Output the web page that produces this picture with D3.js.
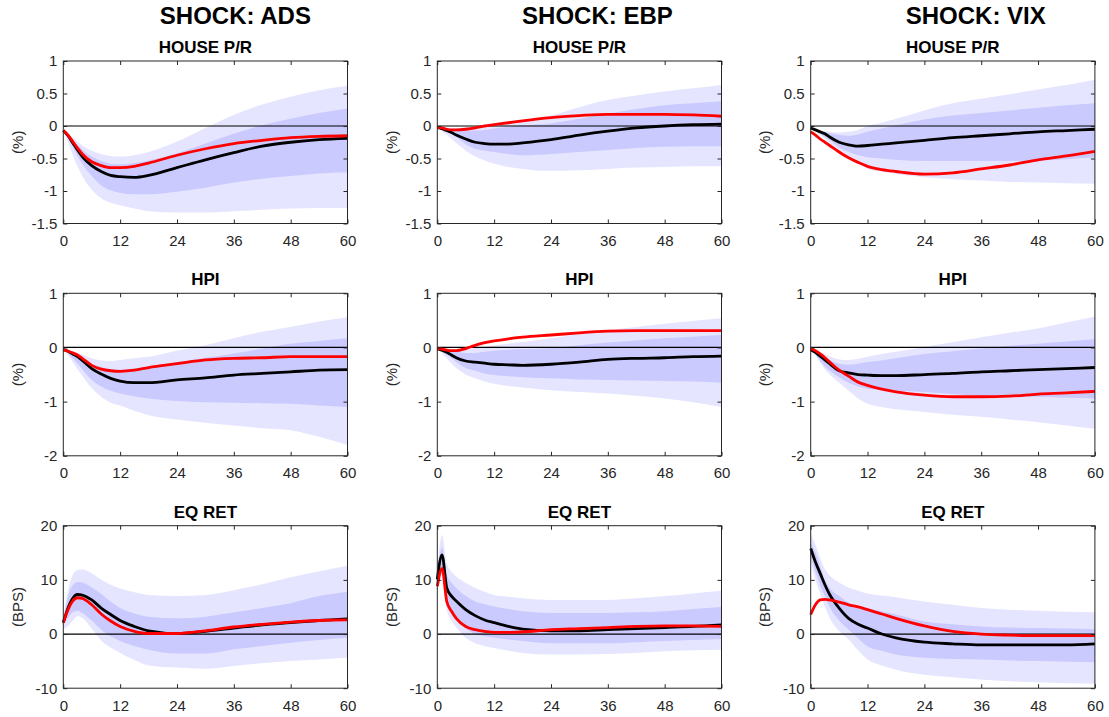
<!DOCTYPE html>
<html>
<head>
<meta charset="utf-8">
<script src="https://cdn.jsdelivr.net/npm/d3@7"></script>
<style>
  body { margin: 0; background: #fff; }
  svg { display: block; font-family: "Liberation Sans", Arial, Helvetica, sans-serif; }
</style>
</head>
<body>
<div id="chart"></div>
<script>
// horizons (months) at which the responses were read
const horizons = [0, 1, 2, 3, 4, 6, 8, 10, 12, 15, 18, 24, 30, 36, 42, 48, 54, 60];
const shocks = ["ADS", "EBP", "VIX"];
const variables = ["HOUSE P/R", "HPI", "EQ RET"];
const units = ["(%)", "(%)", "(BPS)"];
const yDomains = [[-1.5, 1], [-2, 1], [-10, 20]];
const yTicks = [[-1.5, -1, -0.5, 0, 0.5, 1], [-2, -1, 0, 1], [-10, 0, 10, 20]];
const xTicks = [0, 12, 24, 36, 48, 60];

// ADS shock, HOUSE P/R
const adsHouseBlack = [-0.07,-0.15,-0.26,-0.37,-0.47,-0.61,-0.70,-0.76,-0.78,-0.79,-0.76,-0.64,-0.52,-0.41,-0.31,-0.25,-0.21,-0.19];
const adsHouseRed = [-0.07,-0.14,-0.24,-0.34,-0.43,-0.55,-0.61,-0.64,-0.64,-0.62,-0.57,-0.45,-0.35,-0.27,-0.22,-0.18,-0.16,-0.15];
const adsHouseOuterHi = [-0.07,-0.12,-0.18,-0.24,-0.30,-0.38,-0.43,-0.46,-0.47,-0.45,-0.40,-0.24,-0.03,0.17,0.33,0.45,0.55,0.62];
const adsHouseInnerHi = [-0.07,-0.13,-0.21,-0.29,-0.36,-0.47,-0.54,-0.58,-0.59,-0.57,-0.53,-0.42,-0.27,-0.12,0.01,0.11,0.20,0.27];
const adsHouseInnerLo = [-0.07,-0.18,-0.32,-0.46,-0.58,-0.77,-0.91,-0.99,-1.03,-1.05,-1.05,-1.01,-0.95,-0.87,-0.81,-0.77,-0.73,-0.71];
const adsHouseOuterLo = [-0.07,-0.25,-0.45,-0.62,-0.77,-0.98,-1.11,-1.18,-1.22,-1.27,-1.31,-1.33,-1.33,-1.31,-1.29,-1.27,-1.26,-1.26];

// EBP shock, HOUSE P/R
const ebpHouseBlack = [-0.02,-0.04,-0.07,-0.10,-0.14,-0.20,-0.25,-0.27,-0.28,-0.28,-0.26,-0.21,-0.14,-0.08,-0.03,0.00,0.02,0.03];
const ebpHouseRed = [-0.02,-0.03,-0.05,-0.06,-0.06,-0.05,-0.03,0.00,0.02,0.05,0.08,0.13,0.16,0.18,0.18,0.18,0.17,0.15];
const ebpHouseOuterHi = [-0.02,-0.02,-0.03,-0.03,-0.03,-0.02,-0.01,0.00,0.00,0.03,0.07,0.16,0.29,0.40,0.47,0.53,0.58,0.63];
const ebpHouseInnerHi = [-0.02,-0.03,-0.04,-0.05,-0.06,-0.07,-0.07,-0.06,-0.04,-0.01,0.01,0.04,0.11,0.19,0.26,0.32,0.35,0.38];
const ebpHouseInnerLo = [-0.02,-0.05,-0.09,-0.12,-0.17,-0.28,-0.35,-0.38,-0.40,-0.43,-0.45,-0.43,-0.40,-0.37,-0.34,-0.32,-0.31,-0.31];
const ebpHouseOuterLo = [-0.02,-0.08,-0.14,-0.20,-0.26,-0.38,-0.47,-0.53,-0.58,-0.63,-0.66,-0.69,-0.68,-0.66,-0.64,-0.63,-0.62,-0.62];

// VIX shock, HOUSE P/R
const vixHouseBlack = [-0.03,-0.06,-0.09,-0.12,-0.17,-0.25,-0.29,-0.31,-0.30,-0.28,-0.26,-0.22,-0.18,-0.15,-0.12,-0.09,-0.07,-0.05];
const vixHouseRed = [-0.09,-0.14,-0.20,-0.25,-0.30,-0.40,-0.49,-0.56,-0.62,-0.67,-0.70,-0.74,-0.72,-0.66,-0.60,-0.52,-0.46,-0.39];
const vixHouseOuterHi = [-0.03,-0.05,-0.07,-0.08,-0.09,-0.10,-0.09,-0.06,0.00,0.05,0.11,0.24,0.35,0.42,0.49,0.56,0.63,0.71];
const vixHouseInnerHi = [-0.03,-0.05,-0.07,-0.09,-0.11,-0.14,-0.15,-0.13,-0.09,-0.04,0.01,0.10,0.16,0.20,0.24,0.28,0.32,0.35];
const vixHouseInnerLo = [-0.03,-0.07,-0.12,-0.17,-0.22,-0.33,-0.40,-0.45,-0.48,-0.50,-0.52,-0.54,-0.54,-0.54,-0.54,-0.53,-0.51,-0.48];
const vixHouseOuterLo = [-0.03,-0.08,-0.14,-0.20,-0.27,-0.40,-0.48,-0.57,-0.66,-0.70,-0.74,-0.79,-0.82,-0.84,-0.86,-0.87,-0.88,-0.89];

// ADS shock, HPI
const adsHpiBlack = [-0.04,-0.07,-0.12,-0.17,-0.24,-0.39,-0.49,-0.57,-0.62,-0.65,-0.65,-0.60,-0.56,-0.51,-0.48,-0.45,-0.42,-0.41];
const adsHpiRed = [-0.04,-0.07,-0.10,-0.14,-0.20,-0.33,-0.40,-0.43,-0.44,-0.42,-0.37,-0.30,-0.23,-0.20,-0.19,-0.17,-0.17,-0.17];
const adsHpiOuterHi = [-0.04,-0.05,-0.07,-0.10,-0.13,-0.20,-0.24,-0.25,-0.23,-0.20,-0.17,-0.06,0.04,0.17,0.29,0.38,0.48,0.56];
const adsHpiInnerHi = [-0.04,-0.06,-0.09,-0.13,-0.19,-0.30,-0.36,-0.40,-0.41,-0.39,-0.36,-0.27,-0.19,-0.11,-0.02,0.07,0.12,0.17];
const adsHpiInnerLo = [-0.04,-0.11,-0.20,-0.30,-0.40,-0.60,-0.72,-0.80,-0.85,-0.90,-0.94,-0.99,-1.01,-1.02,-1.03,-1.04,-1.07,-1.10];
const adsHpiOuterLo = [-0.04,-0.14,-0.27,-0.40,-0.52,-0.75,-0.91,-1.02,-1.07,-1.17,-1.25,-1.33,-1.39,-1.44,-1.49,-1.53,-1.65,-1.80];

// EBP shock, HPI
const ebpHpiBlack = [-0.02,-0.05,-0.09,-0.14,-0.19,-0.25,-0.27,-0.29,-0.31,-0.32,-0.33,-0.31,-0.27,-0.22,-0.20,-0.19,-0.17,-0.16];
const ebpHpiRed = [-0.02,-0.03,-0.05,-0.06,-0.06,-0.02,0.04,0.09,0.12,0.16,0.19,0.23,0.27,0.30,0.31,0.31,0.31,0.31];
const ebpHpiOuterHi = [-0.02,-0.03,-0.04,-0.05,-0.05,-0.03,-0.01,0.01,0.04,0.07,0.10,0.17,0.25,0.32,0.38,0.44,0.49,0.54];
const ebpHpiInnerHi = [-0.02,-0.03,-0.05,-0.06,-0.08,-0.10,-0.10,-0.08,-0.06,-0.04,-0.03,-0.01,0.04,0.09,0.13,0.17,0.20,0.23];
const ebpHpiInnerLo = [-0.02,-0.08,-0.14,-0.20,-0.27,-0.38,-0.43,-0.48,-0.51,-0.53,-0.55,-0.57,-0.59,-0.60,-0.61,-0.62,-0.63,-0.65];
const ebpHpiOuterLo = [-0.02,-0.11,-0.20,-0.30,-0.38,-0.50,-0.57,-0.63,-0.67,-0.71,-0.74,-0.79,-0.82,-0.85,-0.89,-0.94,-1.01,-1.10];

// VIX shock, HPI
const vixHpiBlack = [-0.04,-0.09,-0.16,-0.23,-0.30,-0.43,-0.47,-0.50,-0.51,-0.52,-0.52,-0.50,-0.48,-0.45,-0.43,-0.41,-0.39,-0.37];
const vixHpiRed = [-0.02,-0.06,-0.12,-0.19,-0.27,-0.42,-0.53,-0.64,-0.70,-0.77,-0.82,-0.88,-0.91,-0.91,-0.90,-0.86,-0.84,-0.81];
const vixHpiOuterHi = [-0.04,-0.06,-0.09,-0.12,-0.16,-0.22,-0.23,-0.21,-0.17,-0.12,-0.08,0.01,0.10,0.19,0.27,0.35,0.46,0.57];
const vixHpiInnerHi = [-0.04,-0.08,-0.13,-0.18,-0.23,-0.30,-0.32,-0.30,-0.27,-0.24,-0.20,-0.12,-0.07,-0.02,0.03,0.07,0.11,0.15];
const vixHpiInnerLo = [-0.04,-0.13,-0.24,-0.35,-0.43,-0.55,-0.65,-0.72,-0.76,-0.78,-0.80,-0.82,-0.86,-0.90,-0.91,-0.91,-0.93,-0.94];
const vixHpiOuterLo = [-0.04,-0.15,-0.28,-0.40,-0.50,-0.65,-0.80,-0.94,-1.04,-1.10,-1.14,-1.19,-1.24,-1.28,-1.33,-1.38,-1.44,-1.50];

// ADS shock, EQ RET
const adsEqBlack = [2.1,4.8,6.6,7.3,7.2,6.3,4.8,3.6,2.5,1.4,0.6,0.1,0.5,1.1,1.7,2.1,2.5,2.8];
const adsEqRed = [2.1,4.5,6.1,6.7,6.6,5.4,3.7,2.4,1.4,0.5,0.1,0.1,0.6,1.3,1.8,2.2,2.5,2.6];
const adsEqOuterHi = [2.9,8.1,10.9,11.8,11.9,11.2,10.0,9.1,8.4,7.7,7.2,7.0,7.2,8.1,9.2,10.5,11.6,12.6];
const adsEqInnerHi = [2.5,7.0,9.0,9.6,9.5,8.6,7.4,6.0,4.8,3.8,3.2,2.9,3.2,4.0,4.8,5.7,7.0,7.8];
const adsEqInnerLo = [1.5,3.0,4.0,4.3,3.9,2.5,0.8,-0.4,-1.3,-2.2,-2.9,-3.6,-3.6,-2.8,-2.2,-1.6,-1.1,-0.7];
const adsEqOuterLo = [1.0,1.5,2.5,3.3,3.0,1.0,-1.2,-2.5,-3.5,-4.8,-5.8,-6.2,-6.4,-5.9,-5.4,-5.0,-4.7,-4.4];

// EBP shock, EQ RET
const ebpEqBlack = [10.1,14.6,8.5,7.0,6.1,4.5,3.4,2.6,2.1,1.4,0.9,0.6,0.6,0.8,1.0,1.2,1.4,1.7];
const ebpEqRed = [8.8,12.1,6.0,4.2,2.9,1.4,0.8,0.5,0.3,0.3,0.4,0.8,1.0,1.2,1.4,1.5,1.5,1.4];
const ebpEqOuterHi = [12.0,18.3,13.0,11.5,10.6,9.4,8.5,7.8,7.2,6.9,6.6,6.3,6.3,6.3,6.6,7.0,7.5,8.0];
const ebpEqInnerHi = [11.0,16.0,11.0,9.5,8.5,7.0,6.0,5.5,5.1,4.6,4.2,3.9,3.9,3.9,4.0,4.2,4.6,5.0];
const ebpEqInnerLo = [9.0,12.5,6.0,4.0,2.8,1.0,0.0,-0.4,-0.7,-1.0,-1.3,-1.7,-1.7,-1.7,-1.5,-1.3,-1.1,-0.9];
const ebpEqOuterLo = [8.0,11.0,4.5,2.5,1.2,-0.7,-1.7,-2.2,-2.6,-3.1,-3.5,-3.8,-3.8,-3.7,-3.5,-3.2,-3.0,-2.9];

// VIX shock, EQ RET
const vixEqBlack = [15.8,13.3,11.2,9.1,7.3,4.8,2.9,1.8,1.1,0.0,-0.7,-1.5,-1.8,-2.0,-2.0,-2.0,-2.0,-1.8];
const vixEqRed = [3.6,5.4,6.3,6.4,6.3,5.9,5.4,5.0,4.5,3.7,2.9,1.5,0.5,0.0,-0.2,-0.3,-0.3,-0.3];
const vixEqOuterHi = [18.5,16.5,14.0,12.0,10.8,9.5,8.6,8.0,7.5,7.1,6.8,6.0,5.4,4.8,4.5,4.3,4.1,4.0];
const vixEqInnerHi = [17.0,15.0,12.5,10.0,8.5,7.0,5.8,5.2,4.8,4.2,3.6,2.3,1.8,1.4,1.2,1.1,1.0,0.9];
const vixEqInnerLo = [14.5,11.5,9.0,7.0,5.0,2.5,0.8,-0.8,-2.3,-3.1,-3.8,-4.4,-4.6,-4.7,-4.9,-5.0,-5.1,-5.2];
const vixEqOuterLo = [13.5,10.0,7.5,5.0,3.0,0.5,-1.0,-3.0,-4.7,-5.8,-6.6,-7.5,-8.0,-8.4,-8.7,-8.9,-9.1,-9.2];

// panel table: [row][col]
const panels = [
  [ [adsHouseBlack, adsHouseRed, adsHouseOuterHi, adsHouseInnerHi, adsHouseInnerLo, adsHouseOuterLo],
    [ebpHouseBlack, ebpHouseRed, ebpHouseOuterHi, ebpHouseInnerHi, ebpHouseInnerLo, ebpHouseOuterLo],
    [vixHouseBlack, vixHouseRed, vixHouseOuterHi, vixHouseInnerHi, vixHouseInnerLo, vixHouseOuterLo] ],
  [ [adsHpiBlack, adsHpiRed, adsHpiOuterHi, adsHpiInnerHi, adsHpiInnerLo, adsHpiOuterLo],
    [ebpHpiBlack, ebpHpiRed, ebpHpiOuterHi, ebpHpiInnerHi, ebpHpiInnerLo, ebpHpiOuterLo],
    [vixHpiBlack, vixHpiRed, vixHpiOuterHi, vixHpiInnerHi, vixHpiInnerLo, vixHpiOuterLo] ],
  [ [adsEqBlack, adsEqRed, adsEqOuterHi, adsEqInnerHi, adsEqInnerLo, adsEqOuterLo],
    [ebpEqBlack, ebpEqRed, ebpEqOuterHi, ebpEqInnerHi, ebpEqInnerLo, ebpEqOuterLo],
    [vixEqBlack, vixEqRed, vixEqOuterHi, vixEqInnerHi, vixEqInnerLo, vixEqOuterLo] ]
];

// layout
const W = 1109, H = 717;
const colLeft = [63.3, 437.3, 810.7];
const rowTop = [61, 293.3, 525.7];
const plotW = 284.2, plotH = 162.5;
const titleShift = [30, 18, 23];
const axisColor = "#262626";

const svg = d3.select("#chart").append("svg")
  .attr("width", W)
  .attr("height", H);

svg.append("rect").attr("width", W).attr("height", H).attr("fill", "#fff");

// column titles
shocks.forEach((s, c) => {
  svg.append("text")
    .attr("x", colLeft[c] + plotW / 2 + titleShift[c])
    .attr("y", 24)
    .attr("text-anchor", "middle")
    .style("font-size", "24px")
    .style("font-weight", "bold")
    .attr("fill", "#000")
    .text("SHOCK: " + s);
});

const x = d3.scaleLinear().domain([0, 60]).range([0, plotW]);

panels.forEach((rowPanels, r) => {
  const y = d3.scaleLinear().domain(yDomains[r]).range([plotH, 0]);

  rowPanels.forEach((series, c) => {
    const [black, red, outerHi, innerHi, innerLo, outerLo] = series;
    const g = svg.append("g")
      .attr("transform", `translate(${colLeft[c]},${rowTop[r]})`);

    const band = (lo, hi) => d3.area()
      .x((d, i) => x(horizons[i]))
      .y0((d, i) => y(lo[i]))
      .y1((d, i) => y(hi[i]))
      .curve(d3.curveMonotoneX)(horizons);

    g.append("path").attr("d", band(outerLo, outerHi)).attr("fill", "#e5e5ff");
    g.append("path").attr("d", band(innerLo, innerHi)).attr("fill", "#cacafe");

    // zero line
    g.append("line")
      .attr("x1", x(0)).attr("x2", x(60))
      .attr("y1", y(0)).attr("y2", y(0))
      .attr("stroke", "#000").attr("stroke-width", 1.2);

    const line = d3.line()
      .x((d, i) => x(horizons[i]))
      .y(d => y(d))
      .curve(d3.curveMonotoneX);

    g.append("path").attr("d", line(black))
      .attr("fill", "none").attr("stroke", "#000").attr("stroke-width", 2.8);
    g.append("path").attr("d", line(red))
      .attr("fill", "none").attr("stroke", "#ff0000").attr("stroke-width", 2.8);

    // axes (ticks inward, box on)
    const bottom = g.append("g")
      .attr("transform", `translate(0,${plotH})`)
      .call(d3.axisBottom(x).tickValues(xTicks).tickSize(-4).tickPadding(12).tickFormat(d3.format("d")));
    const left = g.append("g")
      .call(d3.axisLeft(y).tickValues(yTicks[r]).tickSize(-4).tickPadding(6).tickFormat(d => String(d)));
    g.append("g")
      .call(d3.axisTop(x).tickValues(xTicks).tickSize(-4).tickFormat(""));
    g.append("g")
      .attr("transform", `translate(${plotW},0)`)
      .call(d3.axisRight(y).tickValues(yTicks[r]).tickSize(-4).tickFormat(""));

    g.selectAll(".domain").remove();
    g.selectAll(".tick line").attr("stroke", axisColor);
    [bottom, left].forEach(a => a.selectAll("text")
      .attr("fill", axisColor)
      .style("font-size", "15px")
      .style("font-family", "'Liberation Sans', Arial, sans-serif"));

    g.append("rect")
      .attr("width", plotW).attr("height", plotH)
      .attr("fill", "none").attr("stroke", axisColor).attr("stroke-width", 1);

    // subplot title
    g.append("text")
      .attr("x", plotW / 2).attr("y", -8)
      .attr("text-anchor", "middle")
      .style("font-size", "17px")
      .style("font-weight", "bold")
      .attr("fill", "#000")
      .text(variables[r]);

    // y label
    g.append("text")
      .attr("transform", `translate(-46,${plotH / 2}) rotate(-90)`)
      .attr("text-anchor", "middle")
      .attr("dy", "0.35em")
      .style("font-size", "15px")
      .attr("fill", axisColor)
      .text(units[r]);
  });
});
</script>
</body>
</html>
